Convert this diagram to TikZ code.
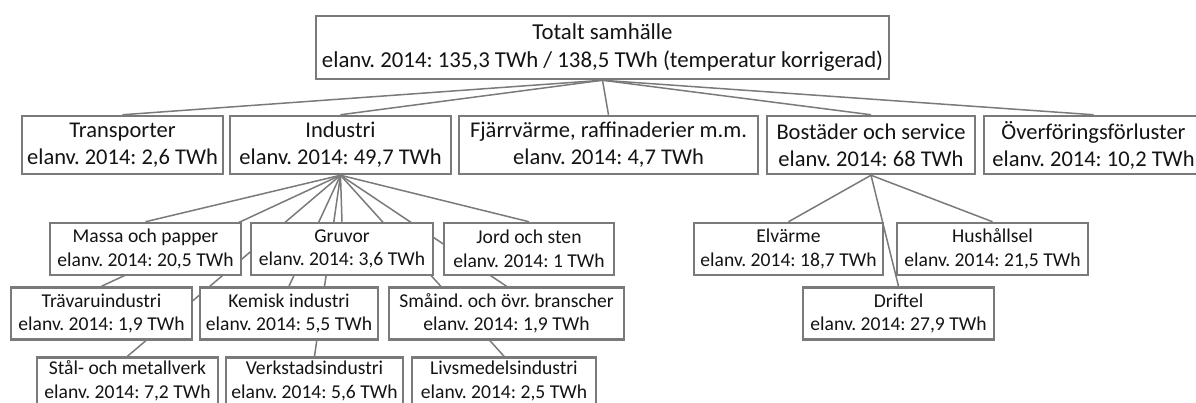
\documentclass[tikz,border=0pt]{standalone}
\usepackage{fontspec}
\setmainfont{Carlito}
\usetikzlibrary{backgrounds}
\definecolor{boxgray}{HTML}{7A7A7A}
\definecolor{linegray}{HTML}{7A7A7A}
\definecolor{txt}{HTML}{141414}
\tikzset{
  box/.style={draw=boxgray, line width=2.5pt, fill=white, inner sep=0pt, align=center, text=txt},
  topbox/.style={box, font=\fontsize{22.8}{28}\selectfont},
  big/.style={box, font=\fontsize{22.5}{27}\selectfont, minimum height=58pt},
  small/.style={box, font=\fontsize{19.6}{23.5}\selectfont, minimum height=52pt},
  bottombox/.style={small, minimum height=47pt},
  conn/.style={draw=linegray, line width=1.5pt},
}
\begin{document}
\frenchspacing
\begin{tikzpicture}[x=1pt,y=-1pt]
\useasboundingbox (0,0) rectangle (1196,403);
\clip (0,0) rectangle (1196,403);
% top
\node[topbox, minimum width=573pt, minimum height=63pt] (tot) at (602.5,47.5)
  {Totalt samhälle\\elanv. 2014: 135,3 TWh / 138,5 TWh (temperatur korrigerad)};
% row 2
\node[big, minimum width=201pt] (tr) at (122.5,145) {Transporter\\elanv. 2014: 2,6 TWh};
\node[big, minimum width=221pt] (ind) at (340.5,145) {Industri\\elanv. 2014: 49,7 TWh};
\node[big, minimum width=299pt] (fj) at (608.5,145) {Fjärrvärme, raffinaderier m.m.\\elanv. 2014: 4,7 TWh};
\node[big, minimum width=208pt] (bo) at (871,145) {Bostäder och service\\elanv. 2014: 68 TWh};
\node[big, minimum width=219pt] (ov) at (1093.5,145) {Överföringsförluster\\elanv. 2014: 10,2 TWh};
% row 3
\node[small, minimum width=191pt] (massa) at (145.5,249) {Massa och papper\\elanv. 2014: 20,5 TWh};
\node[small, minimum width=182pt] (gruv) at (342,249) {Gruvor\\elanv. 2014: 3,6 TWh};
\node[small, minimum width=170pt] (jord) at (529,249) {Jord och sten\\elanv. 2014: 1 TWh};
\node[small, minimum width=189pt] (elv) at (788.5,249) {Elvärme\\elanv. 2014: 18,7 TWh};
\node[small, minimum width=191pt] (hus) at (992.5,249) {Hushållsel\\elanv. 2014: 21,5 TWh};
% row 4
\node[small, minimum width=181pt] (trav) at (101.5,313.5) {Trävaruindustri\\elanv. 2014: 1,9 TWh};
\node[small, minimum width=178pt] (kem) at (289,313.5) {Kemisk industri\\elanv. 2014: 5,5 TWh};
\node[small, minimum width=235pt] (sma) at (506.5,313.5) {Småind. och övr. branscher\\elanv. 2014: 1,9 TWh};
\node[small, minimum width=191pt] (drift) at (898.5,313.5) {Driftel\\elanv. 2014: 27,9 TWh};
% row 5 (box runs past the lower edge)
\node[bottombox, minimum width=181pt] (stal) at (127.5,381) {Stål- och metallverk\\elanv. 2014: 7,2 TWh};
\node[bottombox, minimum width=177pt] (verk) at (314.5,381) {Verkstadsindustri\\elanv. 2014: 5,6 TWh};
\node[bottombox, minimum width=184pt] (liv) at (504,381) {Livsmedelsindustri\\elanv. 2014: 2,5 TWh};
% connectors
\begin{scope}[on background layer]
\foreach \c in {tr,ind,fj,bo,ov} \draw[conn] (tot.south) -- (\c.north);
\foreach \c in {massa,gruv,jord,trav,kem,sma,stal,verk,liv} \draw[conn] (ind.south) -- (\c.north);
\foreach \c in {elv,hus,drift} \draw[conn] (bo.south) -- (\c.north);
\end{scope}
\end{tikzpicture}
\end{document}
